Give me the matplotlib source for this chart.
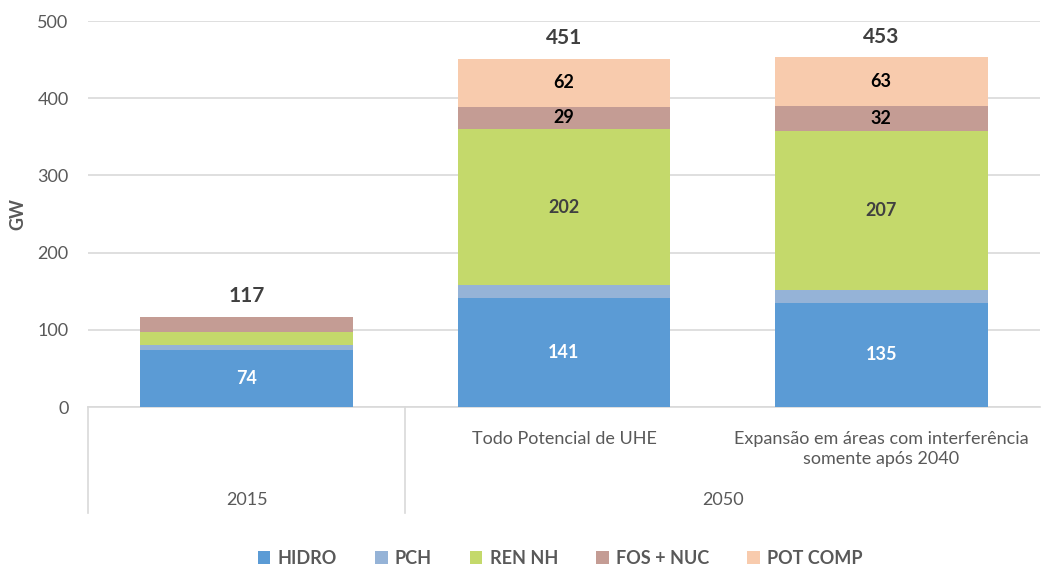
import numpy as np
import matplotlib.pyplot as plt
import matplotlib.transforms as mtransforms

plt.rcParams['font.family'] = ['Lato', 'DejaVu Sans']

# data
sub_labels = ['', 'Todo Potencial de UHE', 'Expansão em áreas com interferência\nsomente após 2040']
group_labels = ['2015', '2050']
series = ['HIDRO', 'PCH', 'REN NH', 'FOS + NUC', 'POT COMP']
hidro = [74, 141, 135]
pch = [6, 17, 16]
ren_nh = [17, 202, 207]
fos_nuc = [20, 29, 32]
pot_comp = [0, 62, 63]
totals = [117, 451, 453]

colors = ['#5b9bd5', '#95b3d7', '#c4d96b', '#c49c94', '#f8cbad']
label_colors = ['white', None, '#404040', 'black', 'black']
show_label = [[True, True, True], [False, False, False], [False, True, True],
              [False, True, True], [False, True, True]]

fig = plt.figure(figsize=(10.43, 5.69), dpi=100)
ax = fig.add_axes([0.0844, 0.2847, 0.9126, 0.6783])

x = np.arange(3)
bottom = np.zeros(3)
data = [hidro, pch, ren_nh, fos_nuc, pot_comp]
for i, vals in enumerate(data):
    vals = np.array(vals, dtype=float)
    bars = ax.bar(x, vals, 0.67, bottom=bottom, color=colors[i], label=series[i], zorder=3)
    if label_colors[i] is not None:
        labs = [str(int(v)) if show_label[i][j] else '' for j, v in enumerate(vals)]
        ax.bar_label(bars, labels=labs, label_type='center', color=label_colors[i],
                     fontsize=13, fontweight='bold')
    bottom += vals

for j in range(3):
    ax.text(x[j], totals[j] + 14, str(totals[j]), ha='center', va='bottom',
            fontsize=15, fontweight='bold', color='#404040')

ax.set_ylim(0, 500)
ax.set_xlim(-0.5, 2.5)
ax.set_yticks([0, 100, 200, 300, 400, 500])
ax.tick_params(axis='y', length=0, labelsize=13, labelcolor='#595959', pad=14)
ax.set_ylabel('GW', fontsize=13, fontweight='bold', color='#595959', labelpad=8)
ax.yaxis.grid(True, color='#d9d9d9', linewidth=1.2, zorder=0)
ax.set_axisbelow(True)
for s in ['top', 'right', 'left']:
    ax.spines[s].set_visible(False)
ax.spines['bottom'].set_color('#d9d9d9')
ax.spines['bottom'].set_linewidth(1.2)

ax.set_xticks(x)
ax.set_xticklabels(sub_labels, fontsize=13, color='#595959', linespacing=1.35)
ax.tick_params(axis='x', length=0, pad=17)

# group labels and separators
trans = mtransforms.blended_transform_factory(ax.transData, ax.transAxes)
ax.text(0, -0.24, group_labels[0], transform=trans, ha='center', va='center',
        fontsize=13, color='#595959')
ax.text(1.5, -0.24, group_labels[1], transform=trans, ha='center', va='center',
        fontsize=13, color='#595959')
for xv in [-0.5, 0.5]:
    ax.plot([xv, xv], [0, -0.275], transform=trans, color='#d9d9d9', linewidth=1.2,
            clip_on=False)

fig.legend(loc='lower center', bbox_to_anchor=(0.537, -0.025), ncol=5, frameon=False,
           handlelength=0.7, handleheight=0.7, columnspacing=2.1, handletextpad=0.4,
           prop={'size': 13, 'weight': 'bold'}, labelcolor='#595959')

fig.savefig('out.png', dpi=100)
